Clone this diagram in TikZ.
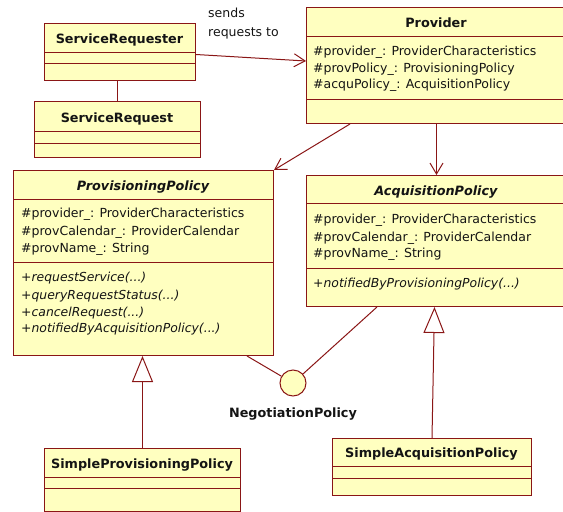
\documentclass[tikz,border=0pt]{standalone}
\usepackage{fontspec}
\setmainfont{DejaVu Sans}
\usetikzlibrary{arrows.meta}
\definecolor{umlline}{RGB}{138,22,22}
\definecolor{umlfill}{RGB}{255,255,192}
\definecolor{umltext}{RGB}{20,20,20}

% class box: name, left, top, right, bottom, first and second separator
\newcommand\umlclass[7]{%
  \node[classbox, minimum width={(#4-#2)*1pt}, minimum height={(#5-#3)*1pt}] (#1) at (#2,#3) {};
  \draw[sepline] (#1.west |- 0,#6) -- (#1.east |- 0,#6);
  \draw[sepline] (#1.west |- 0,#7) -- (#1.east |- 0,#7);
}
% one line of text in a compartment
\newcommand\umltext[4]{\node[member, anchor=base west] (#1) at (#2,#3) {#4};}

\begin{document}
\begin{tikzpicture}[x=1pt,y=-1pt,
  classbox/.style={draw=umlline, fill=umlfill, line width=1pt, inner sep=0pt, anchor=north west},
  sepline/.style={draw=umlline, line width=1pt},
  title/.style={font=\bfseries\fontsize{12.8}{15}\selectfont, text=umltext, anchor=base, inner sep=0pt},
  member/.style={font=\fontsize{12.5}{15}\selectfont, text=umltext, inner sep=0pt},
  method/.style={member, font=\fontsize{12.4}{15}\selectfont\itshape},
  conn/.style={draw=umlline, line width=1pt},
  nav/.style={conn, -{Straight Barb[length=11pt,width=13pt,line width=1pt]}},
  gen/.style={conn, -{Triangle[open,length=26pt,width=21pt,line width=1pt]}}]
\useasboundingbox (0,0) rectangle (563,512);
\clip (0,0) rectangle (563,512);

% classes
\umlclass{sr}{44}{23}{195}{80}{52}{63}
\node[title] (srt) at (119.5,43) {ServiceRequester};

\umlclass{sq}{34}{101}{200}{157}{131}{143}
\node[title] (sqt) at (117,122) {ServiceRequest};

\umlclass{pr}{306}{7}{566}{123}{36}{99}
\node[title] (prt) at (436,27) {Provider};
\umltext{pra}{313}{55}{\#provider\_: ProviderCharacteristics}
\umltext{prb}{313}{72}{\#provPolicy\_: ProvisioningPolicy}
\umltext{prc}{313}{88.5}{\#acquPolicy\_: AcquisitionPolicy}

\umlclass{pp}{13}{170}{273}{355}{199}{262}
\node[title, font=\bfseries\itshape\fontsize{12.8}{15}\selectfont] (ppt) at (143,190) {ProvisioningPolicy};
\umltext{ppa}{21}{217}{\#provider\_: ProviderCharacteristics}
\umltext{ppb}{21}{235}{\#provCalendar\_: ProviderCalendar}
\umltext{ppc}{21}{252}{\#provName\_: String}
\node[method, anchor=base west] (ppm1) at (21,281) {+requestService(...)};
\node[method, anchor=base west] (ppm2) at (21,299) {+queryRequestStatus(...)};
\node[method, anchor=base west] (ppm3) at (21,316) {+cancelRequest(...)};
\node[method, anchor=base west] (ppm4) at (21,332) {+notifiedByAcquisitionPolicy(...)};

\umlclass{ap}{306}{175}{566}{306}{203}{268}
\node[title, font=\bfseries\itshape\fontsize{12.8}{15}\selectfont] (apt) at (436,195) {AcquisitionPolicy};
\umltext{apa}{313}{223}{\#provider\_: ProviderCharacteristics}
\umltext{apb}{313}{241}{\#provCalendar\_: ProviderCalendar}
\umltext{apc}{313}{257}{\#provName\_: String}
\node[method, anchor=base west] (apm1) at (313,287) {+notifiedByProvisioningPolicy(...)};

\umlclass{spp}{44}{448}{240}{511}{477}{488}
\node[title] (sppt) at (142,468) {SimpleProvisioningPolicy};

\umlclass{sap}{332}{438}{531}{495}{466}{478}
\node[title] (sapt) at (431.5,457) {SimpleAcquisitionPolicy};

% interface
\node[circle, draw=umlline, fill=umlfill, line width=1pt, minimum size=26pt, inner sep=0pt] (np) at (293,383) {};
\node[title] (npt) at (293,417) {NegotiationPolicy};

% association label
\node[member, anchor=base west] (lbl1) at (208,17) {sends};
\node[member, anchor=base west] (lbl2) at (208,36) {requests to};

% connectors
\draw[conn] (sq.north) -- (sq.north |- sr.south);
\draw[nav] ([yshift=-2.5pt]sr.east) -- ([yshift=-1pt]pr.west |- 0,60);
\draw[nav] ([xshift=44pt]pr.south west) -- (pp.north east);
\draw[nav] (pr.south) -- (ap.north);
\draw[gen] (spp.north) -- (spp.north |- pp.south);
\draw[gen] (sap.north) -- ([xshift=-2pt]ap.south);
\draw[conn] ([xshift=-27pt]pp.south east) -- (np);
\draw[conn] ([xshift=71pt]ap.south west) -- (np);
\end{tikzpicture}
\end{document}
